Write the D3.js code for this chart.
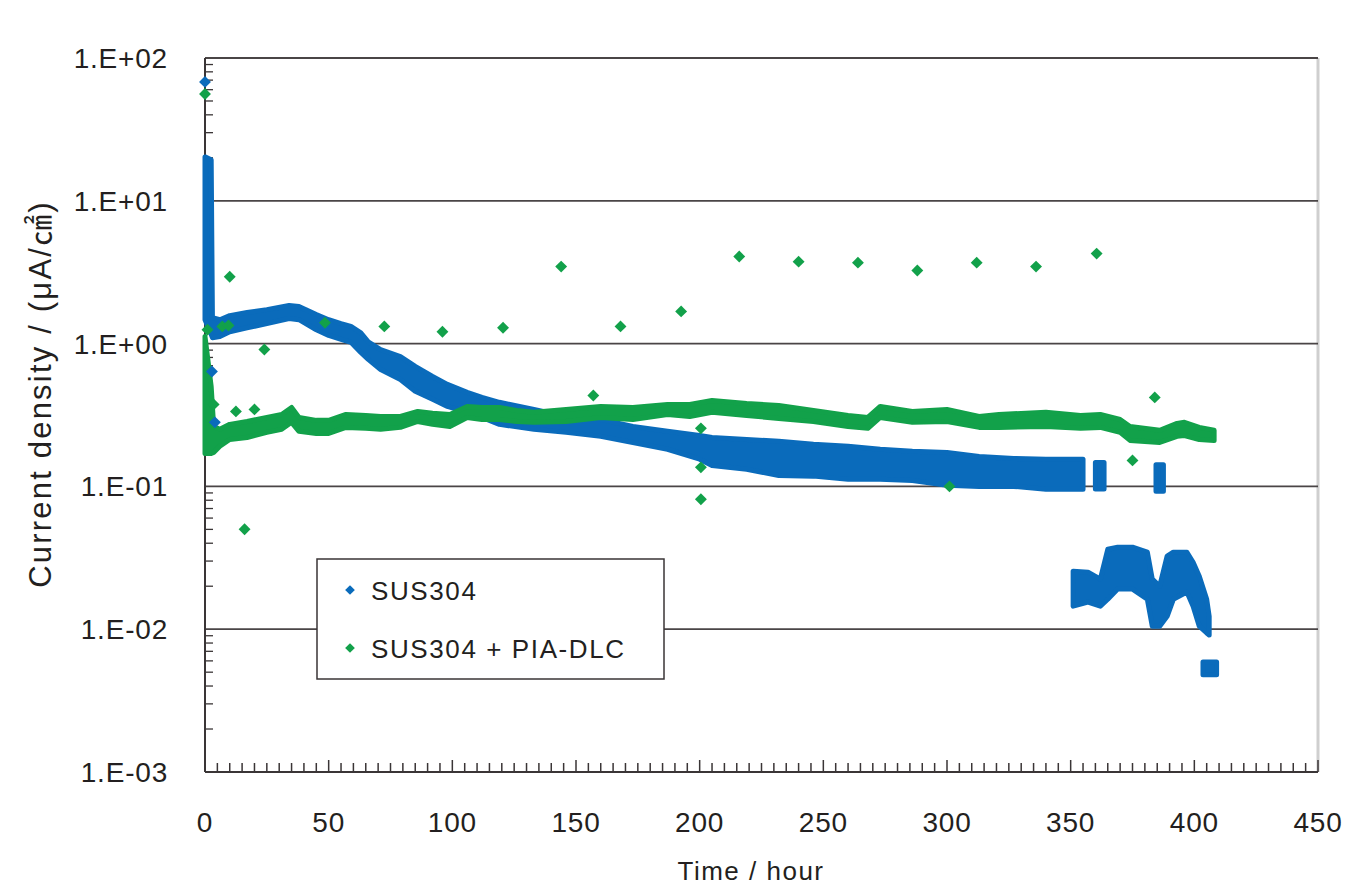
<!DOCTYPE html>
<html>
<head>
<meta charset="utf-8">
<script src="https://cdn.jsdelivr.net/npm/d3@7"></script>
<style>
  body { margin: 0; background: #fff; }
  text { font-family: "Liberation Sans", Arial, "Noto Sans CJK JP", sans-serif; fill: #231f20; }
</style>
</head>
<body>
<svg class="chart"></svg>
<script>
// SUS304 (blue) - dense band, upper / lower edge of the scatter cloud
var blueMainTime = [0, 2.5, 3, 6, 10, 17, 25, 34, 38, 45, 50, 55, 59, 63, 66, 71, 79, 85, 92, 98,
  106, 112, 119, 133, 146, 160, 173, 187, 200, 205, 219, 232, 246, 260, 273, 286, 300, 313, 327, 340, 355];
var blueMainHigh = [20.3, 19.4, 1.52, 1.47, 1.57, 1.65, 1.73, 1.85, 1.82, 1.60, 1.47, 1.38, 1.32, 1.19, 1.03, 0.909, 0.812, 0.692, 0.589, 0.518,
  0.455, 0.420, 0.388, 0.346, 0.309, 0.294, 0.263, 0.243, 0.227, 0.220, 0.213, 0.207, 0.197, 0.191, 0.182, 0.176, 0.173, 0.162, 0.157, 0.155, 0.155];
var blueMainLow = [1.47, 1.16, 1.10, 1.12, 1.21, 1.29, 1.38, 1.50, 1.47, 1.25, 1.14, 1.07, 1.02, 0.866, 0.775, 0.659, 0.561, 0.463, 0.407, 0.363,
  0.330, 0.304, 0.272, 0.251, 0.239, 0.224, 0.203, 0.182, 0.155, 0.140, 0.132, 0.119, 0.118, 0.112, 0.112, 0.110, 0.102, 0.100, 0.100, 0.0955, 0.0955];

var blueBlobATime = [360, 363.5];
var blueBlobAHigh = [0.147, 0.147];
var blueBlobALow = [0.096, 0.096];

var blueBlobBTime = [384.5, 387.5];
var blueBlobBHigh = [0.142, 0.142];
var blueBlobBLow = [0.0925, 0.0925];

var blueLowerTime = [351, 357, 362, 365, 369, 375, 381, 383, 386, 389, 391.5, 397, 399.5, 402, 405, 406];
var blueLowerHigh = [0.0255, 0.0251, 0.0224, 0.0363, 0.0375, 0.0375, 0.0346, 0.0224, 0.0200, 0.0325, 0.0346, 0.0346, 0.0294, 0.0235, 0.0162, 0.0123];
var blueLowerLow = [0.0145, 0.0155, 0.0145, 0.0162, 0.0191, 0.0191, 0.0162, 0.0105, 0.0105, 0.0123, 0.0162, 0.0182, 0.0145, 0.0105, 0.0094, 0.0091];

var blueEndTime = [403.5, 409];
var blueEndHigh = [0.0059, 0.0059];
var blueEndLow = [0.0048, 0.0048];

// SUS304 stray points
var bluePointTime = [0, 2.8, 4];
var bluePointValue = [68, 0.638, 0.281];

// SUS304 + PIA-DLC (green) - dense band
var greenTime = [0, 2.5, 3.5, 6, 10, 17, 25, 31, 35, 38, 45, 50, 57, 65, 71, 79, 86, 92, 99, 106,
  112, 119, 126, 133, 146, 160, 173, 187, 196, 205, 219, 232, 246, 260, 268, 273, 286, 300, 313, 321,
  340, 354, 362, 370, 374, 386, 393, 396, 402, 408];
var greenHigh = [1.12, 0.50, 0.263, 0.251, 0.272, 0.285, 0.304, 0.319, 0.357, 0.304, 0.290, 0.290, 0.319, 0.314, 0.309, 0.309, 0.335, 0.325, 0.319, 0.363,
  0.357, 0.357, 0.340, 0.330, 0.346, 0.363, 0.357, 0.375, 0.375, 0.400, 0.381, 0.369, 0.340, 0.314, 0.304, 0.363, 0.335, 0.346, 0.309, 0.319,
  0.330, 0.314, 0.319, 0.294, 0.263, 0.247, 0.276, 0.281, 0.259, 0.247];
var greenLow = [0.17, 0.17, 0.173, 0.191, 0.213, 0.220, 0.239, 0.251, 0.281, 0.243, 0.235, 0.235, 0.259, 0.255, 0.251, 0.259, 0.285, 0.272, 0.263, 0.304,
  0.294, 0.294, 0.285, 0.281, 0.285, 0.304, 0.294, 0.319, 0.309, 0.330, 0.314, 0.299, 0.285, 0.263, 0.255, 0.304, 0.281, 0.285, 0.259, 0.259,
  0.263, 0.255, 0.259, 0.239, 0.210, 0.203, 0.224, 0.227, 0.213, 0.210];

// SUS304 + PIA-DLC stray points
var greenPointTime = [0, 1, 3.5, 7, 9.5, 10, 12.5, 16, 20, 24, 48.5, 72.5, 96, 120.5, 144, 157, 168, 192.5,
  200.5, 200.5, 200.5, 216, 240, 264, 288, 301, 312, 336, 360.5, 375, 384];
var greenPointValue = [56, 1.25, 0.375, 1.32, 1.34, 2.94, 0.335, 0.0501, 0.346, 0.909, 1.40, 1.32, 1.21, 1.29, 3.46, 0.433, 1.32, 1.68,
  0.255, 0.136, 0.0812, 4.07, 3.75, 3.69, 3.25, 0.100, 3.69, 3.46, 4.27, 0.152, 0.420];

var xTicks = [0, 50, 100, 150, 200, 250, 300, 350, 400, 450];
var yTicks = [0.001, 0.01, 0.1, 1, 10, 100];
var seriesNames = ['SUS304', 'SUS304 + PIA-DLC'];

var blue = '#0a6bbb';
var green = '#12a14a';

var width = 1346;
var height = 891;

var chart = d3.select('.chart').attr('width', width).attr('height', height);

var x = d3.scaleLinear().domain([0, 450]).range([205, 1318]);
var y = d3.scaleLog().domain([0.001, 100]).range([772, 58]);

function zip(t, hi, lo) {
  return t.map((d, i) => ({t: d, hi: hi[i], lo: lo[i]}));
}

// right frame
chart.append('line')
    .attr('x1', x(450)).attr('x2', x(450))
    .attr('y1', y(100)).attr('y2', y(0.001))
    .style('stroke', '#cfcfcf').style('stroke-width', 3);

// grid lines at each decade
chart.append('g').selectAll('line')
    .data(yTicks.filter(d => d > 0.001))
    .join('line')
    .attr('x1', x(0)).attr('x2', x(450))
    .attr('y1', d => y(d)).attr('y2', d => y(d))
    .style('stroke', '#4a4546').style('stroke-width', 1.8);

// minor y ticks
var minorY = [];
for (var e = -3; e < 2; e++) {
  for (var m = 2; m < 10; m++) minorY.push(m * Math.pow(10, e));
}
chart.append('g').selectAll('line')
    .data(minorY)
    .join('line')
    .attr('x1', x(0)).attr('x2', x(0) + 8)
    .attr('y1', d => y(d)).attr('y2', d => y(d))
    .style('stroke', '#3a3536').style('stroke-width', 1.3);

// minor x ticks
chart.append('g').selectAll('line')
    .data(d3.range(0, 451, 5))
    .join('line')
    .attr('x1', d => x(d)).attr('x2', d => x(d))
    .attr('y1', y(0.001))
    .attr('y2', d => y(0.001) - (d % 50 === 0 ? 12 : 9))
    .style('stroke', '#3a3536').style('stroke-width', 1.5);

// axis lines
chart.append('line')
    .attr('x1', x(0)).attr('x2', x(0)).attr('y1', y(100)).attr('y2', y(0.001))
    .style('stroke', '#3a3536').style('stroke-width', 2);
chart.append('line')
    .attr('x1', x(0)).attr('x2', x(450)).attr('y1', y(0.001)).attr('y2', y(0.001))
    .style('stroke', '#3a3536').style('stroke-width', 2);

// bands
var band = d3.area()
    .x(d => x(d.t))
    .y0(d => y(d.lo))
    .y1(d => y(d.hi));

var blueBands = [
  zip(blueMainTime, blueMainHigh, blueMainLow),
  zip(blueBlobATime, blueBlobAHigh, blueBlobALow),
  zip(blueBlobBTime, blueBlobBHigh, blueBlobBLow),
  zip(blueLowerTime, blueLowerHigh, blueLowerLow),
  zip(blueEndTime, blueEndHigh, blueEndLow),
];

chart.append('g').selectAll('path')
    .data(blueBands)
    .join('path')
    .attr('d', band)
    .style('fill', blue)
    .style('stroke', blue)
    .style('stroke-width', 5)
    .style('stroke-linejoin', 'round');

chart.append('path')
    .datum(zip(greenTime, greenHigh, greenLow))
    .attr('d', band)
    .style('fill', green)
    .style('stroke', green)
    .style('stroke-width', 5)
    .style('stroke-linejoin', 'round');

var diamond = d3.symbol().type(d3.symbolDiamond2).size(90);

chart.append('g').selectAll('path')
    .data(greenPointTime.map((t, i) => ({t: t, v: greenPointValue[i]})))
    .join('path')
    .attr('d', diamond)
    .attr('transform', d => 'translate(' + x(d.t) + ',' + y(d.v) + ')')
    .style('fill', green);

chart.append('g').selectAll('path')
    .data(bluePointTime.map((t, i) => ({t: t, v: bluePointValue[i]})))
    .join('path')
    .attr('d', diamond)
    .attr('transform', d => 'translate(' + x(d.t) + ',' + y(d.v) + ')')
    .style('fill', blue);

// tick labels
chart.append('g').selectAll('text')
    .data(yTicks)
    .join('text')
    .attr('x', x(0) - 37)
    .attr('y', d => y(d))
    .attr('dy', '0.36em')
    .attr('text-anchor', 'end')
    .style('font-size', '28px')
    .style('letter-spacing', '0.8px')
    .text(d => {
      var e = Math.round(Math.log10(d));
      return '1.E' + (e < 0 ? '-' : '+') + String(Math.abs(e)).padStart(2, '0');
    });

chart.append('g').selectAll('text')
    .data(xTicks)
    .join('text')
    .attr('x', d => x(d))
    .attr('y', 832)
    .attr('text-anchor', 'middle')
    .style('font-size', '28px')
    .style('letter-spacing', '0.8px')
    .text(d => d);

// axis titles
chart.append('text')
    .attr('x', 751)
    .attr('y', 880)
    .attr('text-anchor', 'middle')
    .style('font-size', '26px')
    .style('letter-spacing', '1.5px')
    .text('Time / hour');

chart.append('text')
    .attr('transform', 'translate(51, 394) rotate(-90)')
    .attr('text-anchor', 'middle')
    .style('font-size', '31px')
    .style('letter-spacing', '2.2px')
    .text('Current density / (μA/㎠)');

// legend
var legend = chart.append('g').attr('transform', 'translate(317, 559)');
legend.append('rect')
    .attr('width', 347).attr('height', 120)
    .style('fill', '#fff')
    .style('stroke', '#3a3536')
    .style('stroke-width', 1.5);

var items = legend.selectAll('g.item')
    .data(seriesNames)
    .join('g')
    .attr('class', 'item')
    .attr('transform', (d, i) => 'translate(0, ' + (31 + i * 58) + ')');

items.append('path')
    .attr('d', d3.symbol().type(d3.symbolDiamond2).size(60))
    .attr('transform', 'translate(33, 0)')
    .style('fill', (d, i) => i === 0 ? blue : green);

items.append('text')
    .attr('x', 54)
    .attr('y', 10)
    .style('font-size', '26px')
    .style('letter-spacing', '1.6px')
    .text(d => d);
</script>
</body>
</html>
